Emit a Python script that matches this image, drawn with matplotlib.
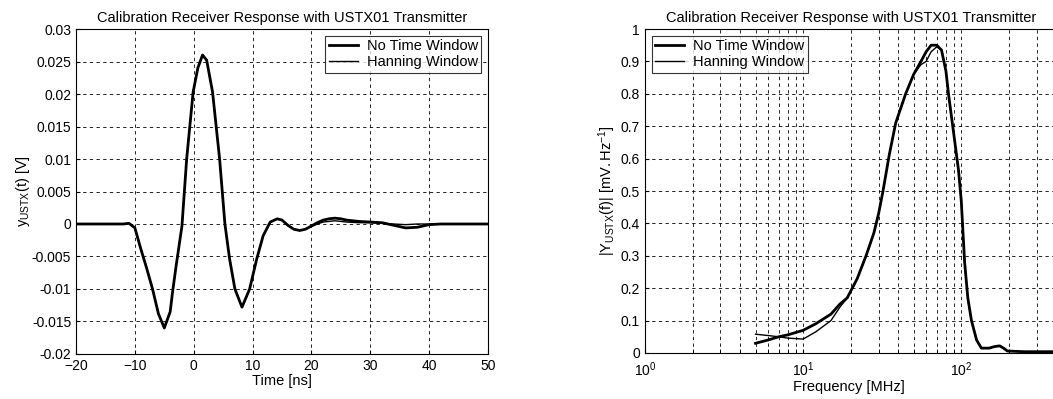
import matplotlib
matplotlib.use("Agg")
import matplotlib.pyplot as plt

plt.rcParams['font.family'] = ['Liberation Sans', 'DejaVu Sans']
plt.rcParams['mathtext.fontset'] = 'custom'
plt.rcParams['mathtext.rm'] = 'Liberation Sans'
plt.rcParams['mathtext.it'] = 'Liberation Sans'

title = 'Calibration Receiver Response with USTX01 Transmitter'
labels = ['No Time Window', 'Hanning Window']

# time domain (ns, V)
t_ns = [-20, -15, -12, -11, -10, -9, -8, -7, -6, -5, -4, -3.6, -3, -2, -1.2, -0.1, 0.7,
        1.5, 2.2, 3.2, 4.4, 5.3, 6.1, 7, 8.2, 9.5, 10.7, 11.8, 13, 14.2, 15, 16, 17, 18,
        19, 20, 21, 22, 23, 24, 25, 26, 28, 30, 32, 34, 36, 38, 40, 42, 45, 50]
y_nowin = [0, 0, 0, 0.0001, -0.0006, -0.0038, -0.0068, -0.010, -0.0138, -0.016, -0.0135,
           -0.0105, -0.0065, -0.0003, 0.010, 0.0203, 0.024, 0.026, 0.0252, 0.0203, 0.010,
           0.0, -0.0054, -0.010, -0.0128, -0.010, -0.0054, -0.0018, 0.0003, 0.0008, 0.0006,
           -0.0002, -0.0008, -0.001, -0.0008, -0.0003, 0.0002, 0.0006, 0.0008, 0.0009,
           0.0008, 0.0006, 0.0004, 0.0003, 0.0002, -0.0002, -0.0006, -0.0005, -0.0001,
           0, 0, 0]
y_hann = [0, 0, 0, 0.0001, -0.0006, -0.0038, -0.0068, -0.010, -0.0138, -0.016, -0.0135,
          -0.0105, -0.0065, -0.0003, 0.010, 0.0203, 0.024, 0.026, 0.0252, 0.0203, 0.010,
          0.0, -0.0054, -0.010, -0.0128, -0.010, -0.0054, -0.0018, 0.0003, 0.0008, 0.0006,
          -0.0002, -0.0008, -0.001, -0.0008, -0.0004, 0.0, 0.0003, 0.0004, 0.0005,
          0.0004, 0.0003, 0.0002, 0.0002, 0.0001, 0.0, -0.0001, 0.0, 0.0, 0, 0, 0]

# frequency domain (MHz, mV/Hz)
f_mhz = [5, 6, 7, 8, 10, 12, 15, 17, 19, 22, 25, 28, 30, 32, 35, 38.5, 44.5, 50, 55.6,
         60, 64.5, 70, 75, 80, 83, 90, 96, 100, 105, 110, 116, 125, 134, 150, 163, 175,
         185, 196, 250, 400]
Y_nowin = [0.03, 0.04, 0.05, 0.056, 0.07, 0.09, 0.12, 0.15, 0.17, 0.23, 0.30, 0.37, 0.43,
           0.50, 0.61, 0.71, 0.80, 0.86, 0.90, 0.93, 0.95, 0.95, 0.935, 0.87, 0.80, 0.67,
           0.565, 0.47, 0.28, 0.17, 0.10, 0.04, 0.015, 0.015, 0.02, 0.022, 0.015, 0.006,
           0.004, 0.004]
Y_hann = [0.058, 0.054, 0.05, 0.046, 0.043, 0.065, 0.10, 0.14, 0.17, 0.23, 0.30, 0.37,
          0.43, 0.50, 0.61, 0.71, 0.80, 0.86, 0.89, 0.90, 0.93, 0.945, 0.935, 0.87, 0.80,
          0.67, 0.565, 0.47, 0.28, 0.17, 0.10, 0.04, 0.015, 0.015, 0.02, 0.022, 0.015,
          0.006, 0.004, 0.004]

left_yticks = [-0.02, -0.015, -0.01, -0.005, 0, 0.005, 0.01, 0.015, 0.02, 0.025, 0.03]
left_yticklabels = ['-0.02', '-0.015', '-0.01', '-0.005', '0', '0.005', '0.01', '0.015',
                    '0.02', '0.025', '0.03']
right_yticks = [0, 0.1, 0.2, 0.3, 0.4, 0.5, 0.6, 0.7, 0.8, 0.9, 1]
right_yticklabels = ['0', '0.1', '0.2', '0.3', '0.4', '0.5', '0.6', '0.7', '0.8', '0.9', '1']

fig = plt.figure(figsize=(10.53, 3.99), dpi=100)
ax1 = fig.add_axes([0.0722, 0.1128, 0.3912, 0.8145])
# right panel is cropped at the image edge in the original (log axis runs ~1..380 MHz)
ax2 = fig.add_axes([0.6125, 0.1153, 0.3875, 0.8120])

gridkw = dict(color='black', linestyle=(0, (4, 4)), linewidth=0.6)
legkw = dict(fontsize=10.5, frameon=True, fancybox=False, edgecolor='black',
             borderaxespad=0.45, handlelength=2.0, handletextpad=0.6,
             borderpad=0.25, labelspacing=0.15)

# left: time response
ax1.plot(t_ns, y_nowin, color='black', lw=2.0, label=labels[0])
ax1.plot(t_ns, y_hann, color='black', lw=1.0, label=labels[1])
ax1.set_xlim(-20, 50)
ax1.set_ylim(-0.02, 0.03)
ax1.set_yticks(left_yticks)
ax1.set_yticklabels(left_yticklabels)
ax1.set_xticks([-20, -10, 0, 10, 20, 30, 40, 50])
ax1.grid(True, **gridkw)
ax1.set_title(title, fontsize=10.5, pad=5)
ax1.set_xlabel('Time [ns]', fontsize=10.5, labelpad=1)
ax1.set_ylabel(r'$\mathrm{y_{USTX}(t)\ [V]}$', fontsize=10.5, labelpad=0)
ax1.legend(loc='upper right', **legkw).get_frame().set_linewidth(0.8)

# right: frequency response
ax2.plot(f_mhz, Y_nowin, color='black', lw=2.0, label=labels[0])
ax2.plot(f_mhz, Y_hann, color='black', lw=1.0, label=labels[1])
ax2.set_xscale('log')
ax2.set_xlim(1, 10 ** 2.58)
ax2.set_ylim(0, 1)
ax2.set_yticks(right_yticks)
ax2.set_yticklabels(right_yticklabels)
ax2.grid(True, which='both', **gridkw)
ax2.spines['right'].set_visible(False)
ax2.set_xlabel('Frequency [MHz]', fontsize=10.5, labelpad=1)
ax2.set_ylabel(r'$\mathrm{|Y_{USTX}(f)|\ [mV.Hz^{-1}]}$', fontsize=10.5, labelpad=2)
fig.text(851 / 1053, 0.955, title, fontsize=10.5, ha='center', va='center')
ax2.legend(loc='upper left', **legkw).get_frame().set_linewidth(0.8)

for ax in (ax1, ax2):
    ax.tick_params(which='both', direction='in', labelsize=10, length=3)
    for s in ax.spines.values():
        s.set_linewidth(0.8)
ax2.tick_params(axis='x', pad=5)

fig.savefig('out.png', dpi=100)
